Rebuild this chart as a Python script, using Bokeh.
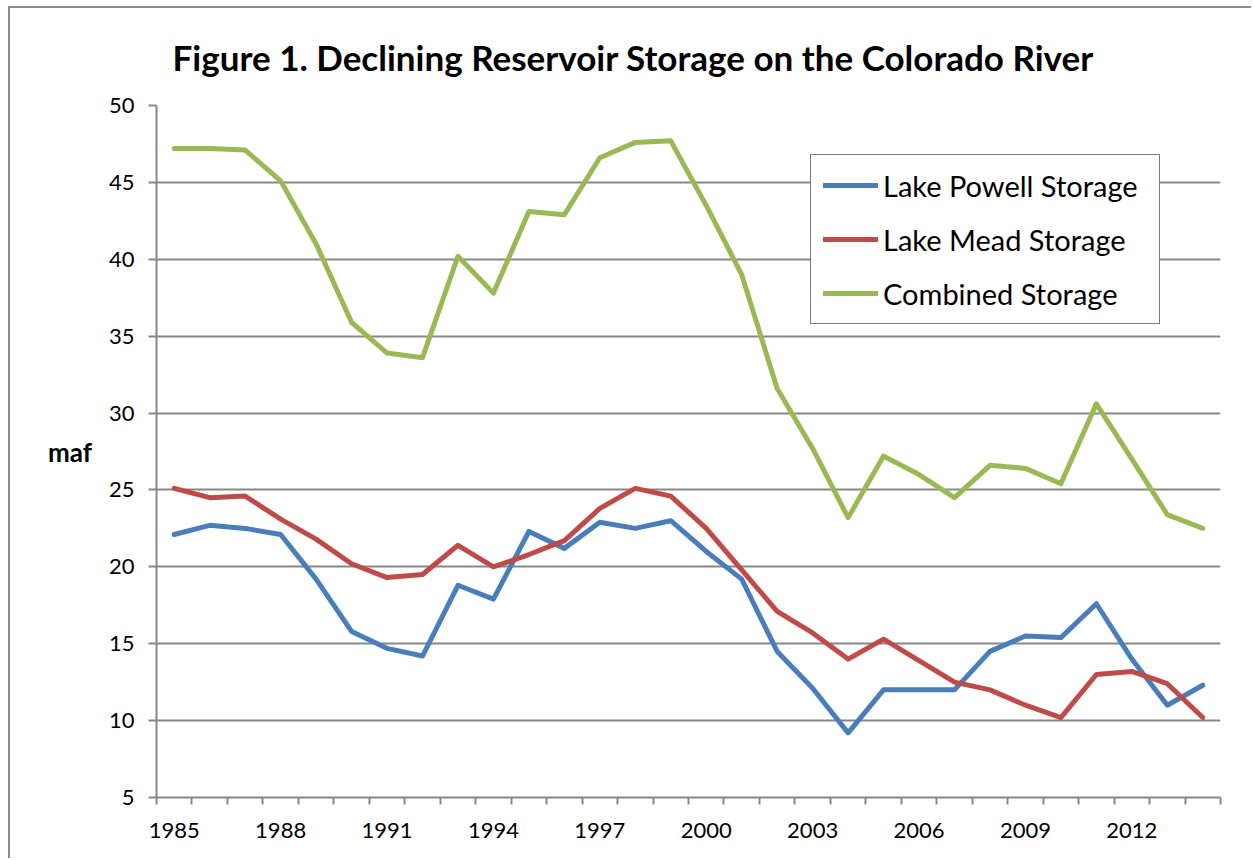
from bokeh.plotting import figure
from bokeh.models import (Range1d, FixedTicker, Legend, LegendItem, Title)
from bokeh.embed import file_html
from bokeh.resources import INLINE

years = list(range(1985, 2015))
powell = [22.1, 22.7, 22.5, 22.1, 19.2, 15.8, 14.7, 14.2, 18.8, 17.9,
          22.3, 21.2, 22.9, 22.5, 23.0, 21.0, 19.2, 14.5, 12.1, 9.2,
          12.0, 12.0, 12.0, 14.5, 15.5, 15.4, 17.6, 14.0, 11.0, 12.3]
mead = [25.1, 24.5, 24.6, 23.1, 21.8, 20.2, 19.3, 19.5, 21.4, 20.0,
        20.8, 21.7, 23.8, 25.1, 24.6, 22.5, 19.8, 17.1, 15.7, 14.0,
        15.3, 13.9, 12.5, 12.0, 11.0, 10.2, 13.0, 13.2, 12.4, 10.2]
combined = [47.2, 47.2, 47.1, 45.1, 41.0, 35.9, 33.9, 33.6, 40.2, 37.8,
            43.1, 42.9, 46.6, 47.6, 47.7, 43.5, 39.0, 31.6, 27.7, 23.2,
            27.2, 26.0, 24.5, 26.6, 26.4, 25.4, 30.6, 27.0, 23.4, 22.5]
series_names = ["Lake Powell Storage", "Lake Mead Storage", "Combined Storage"]
series_colors = ["#4A7EBB", "#BE4B48", "#98B954"]
x_tick_years = [1985, 1988, 1991, 1994, 1997, 2000, 2003, 2006, 2009, 2012]
y_ticks = [5, 10, 15, 20, 25, 30, 35, 40, 45, 50]
title_text = "Figure 1.  Declining Reservoir Storage on the Colorado River"
y_label = "maf"

FONT = "Lato"
GRAY = "#878787"

p = figure(width=1243, height=852, output_backend="svg", toolbar_location=None,
           x_range=Range1d(years[0] - 0.5, years[-1] + 0.5),
           y_range=Range1d(5, 50),
           min_border_left=146, min_border_right=33,
           min_border_top=97, min_border_bottom=63)
p.styles = {"border-left": "2px solid #8c8c8c", "border-top": "2px solid #8c8c8c",
            "margin-left": "8px", "margin-top": "6px"}
p.outline_line_color = None
p.background_fill_color = "white"
p.border_fill_color = "white"

p.title = Title(text=title_text, text_font=FONT, text_font_style="bold",
                text_font_size="35px", align="left", offset=16, standoff=52,
                vertical_align="top", text_color="black")

# axes
xa = p.xaxis[0]
xa.ticker = FixedTicker(ticks=x_tick_years,
                        minor_ticks=[y - 0.5 for y in years] + [years[-1] + 0.5])
xa.major_tick_line_color = None
xa.minor_tick_line_color = GRAY
xa.minor_tick_line_width = 2
xa.minor_tick_out = 7
xa.minor_tick_in = 0
xa.axis_line_color = GRAY
xa.axis_line_width = 2
xa.major_label_text_font = FONT
xa.major_label_text_font_size = "22px"
xa.major_label_text_color = "black"
xa.major_label_standoff = 18

ya = p.yaxis[0]
ya.ticker = FixedTicker(ticks=y_ticks)
ya.minor_tick_line_color = None
ya.major_tick_line_color = GRAY
ya.major_tick_line_width = 2
ya.major_tick_out = 8
ya.major_tick_in = 0
ya.axis_line_color = GRAY
ya.axis_line_width = 2
ya.major_label_text_font = FONT
ya.major_label_text_font_size = "22px"
ya.major_label_text_color = "black"
ya.major_label_standoff = 14
ya.axis_label = y_label
ya.axis_label_orientation = "horizontal"
ya.axis_label_text_font = FONT
ya.axis_label_text_font_style = "bold"
ya.axis_label_text_font_size = "26px"
ya.axis_label_text_color = "black"
ya.axis_label_standoff = 14

p.xgrid.grid_line_color = None
p.ygrid.ticker = FixedTicker(ticks=y_ticks)
p.ygrid.grid_line_color = GRAY
p.ygrid.grid_line_width = 2

renderers = []
for vals, color in zip([powell, mead, combined], series_colors):
    r = p.line(years, vals, line_color=color, line_width=5,
               line_join="round", line_cap="round")
    renderers.append(r)

legend = Legend(items=[LegendItem(label=n, renderers=[r])
                       for n, r in zip(series_names, renderers)],
                location=(654, 473), orientation="vertical",
                label_text_font=FONT, label_text_font_size="29px",
                label_text_color="black",
                glyph_width=55, glyph_height=36, label_height=36,
                label_width=264, label_standoff=5,
                spacing=18, padding=12, margin=0,
                border_line_color="black", border_line_width=1.5,
                background_fill_color="white", background_fill_alpha=1.0)
p.add_layout(legend, "center")

open("out.html", "w").write(file_html(p, INLINE))
